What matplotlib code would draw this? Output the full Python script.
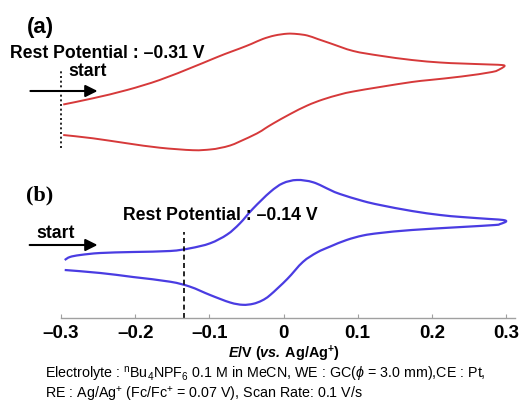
import matplotlib
matplotlib.use("Agg")
import matplotlib.pyplot as plt
from matplotlib.path import Path
from matplotlib.patches import PathPatch

plt.rcParams['font.family'] = ['Liberation Sans', 'DejaVu Sans']
plt.rcParams['mathtext.fontset'] = 'custom'
plt.rcParams['mathtext.rm'] = 'Liberation Sans'
plt.rcParams['mathtext.it'] = 'Liberation Sans:italic'
plt.rcParams['mathtext.bf'] = 'Liberation Sans:bold'
plt.rcParams['mathtext.bfit'] = 'Liberation Sans:bold:italic'

# (a) potential (V vs Ag/Ag+) and current (arb. units), one full cycle
E_a = [-0.297, -0.257, -0.211, -0.167, -0.122, -0.099, -0.079, -0.059, -0.043, -0.028,
       -0.012, 0.005, 0.018, 0.032, 0.046, 0.063, 0.094, 0.130, 0.173, 0.211,
       0.240, 0.278, 0.294, 0.298,
       0.292, 0.281, 0.240, 0.197, 0.173, 0.130, 0.094, 0.076, 0.053, 0.032,
       0.009, -0.014, -0.025, -0.036, -0.059, -0.072, -0.086, -0.099, -0.122,
       -0.167, -0.211, -0.257, -0.297]
I_a = [5.55, 6.17, 7.0, 8.0, 9.3, 10.0, 10.6, 11.15, 11.62, 12.1,
       12.45, 12.63, 12.6, 12.45, 12.1, 11.67, 10.9, 10.43, 10.0, 9.75,
       9.65, 9.55, 9.5, 9.4,
       9.1, 8.8, 8.35, 8.0, 7.8, 7.3, 6.85, 6.55, 6.05, 5.45,
       4.6, 3.65, 3.15, 2.65, 1.85, 1.45, 1.2, 1.05, 0.98,
       1.23, 1.67, 2.17, 2.5]

# (b)
E_b = [-0.295, -0.288, -0.274, -0.247, -0.203, -0.153, -0.126, -0.099, -0.076, -0.059,
       -0.041, -0.018, -0.001, 0.018, 0.040, 0.063, 0.076, 0.107, 0.130, 0.173,
       0.211, 0.240, 0.278, 0.296, 0.300,
       0.292, 0.285, 0.240, 0.173, 0.130, 0.107, 0.085, 0.063, 0.045, 0.026, 0.005,
       -0.018, -0.029, -0.041, -0.055, -0.072, -0.099, -0.126, -0.153, -0.203,
       -0.247, -0.295]
I_b = [5.8, 6.1, 6.3, 6.5, 6.6, 6.7, 6.97, 7.47, 8.35, 9.45,
       10.95, 12.6, 13.47, 13.8, 13.57, 12.8, 12.4, 11.7, 11.3, 10.7,
       10.3, 10.1, 9.9, 9.8, 9.65,
       9.4, 9.3, 9.1, 8.8, 8.5, 8.25, 7.8, 7.15, 6.55, 5.6, 3.9,
       2.3, 1.75, 1.42, 1.32, 1.55, 2.3, 3.13, 3.63, 4.1,
       4.5, 4.8]

rest_a = -0.30
rest_b = -0.134
ticks = [-0.3, -0.2, -0.1, 0.0, 0.1, 0.2, 0.3]
tick_labels = ['\u20130.3', '\u20130.2', '\u20130.1', '0', '0.1', '0.2', '0.3']


def smooth_path(xs, ys):
    # Catmull-Rom through the read points, drawn as cubic Bezier segments
    pts = list(zip(xs, ys))
    verts = [pts[0]]
    codes = [Path.MOVETO]
    n = len(pts)
    for i in range(n - 1):
        p0 = pts[max(i - 1, 0)]
        p1 = pts[i]
        p2 = pts[i + 1]
        p3 = pts[min(i + 2, n - 1)]
        c1 = (p1[0] + (p2[0] - p0[0]) / 6, p1[1] + (p2[1] - p0[1]) / 6)
        c2 = (p2[0] - (p3[0] - p1[0]) / 6, p2[1] - (p3[1] - p1[1]) / 6)
        verts += [c1, c2, p2]
        codes += [Path.CURVE4] * 3
    return Path(verts, codes)


W, H = 524, 403
fig = plt.figure(figsize=(W / 100, H / 100), dpi=100)

def px(x, y):
    return x / W, 1 - y / H

ax_a = fig.add_axes([61 / W, 243 / H, 454 / W, 140 / H])
ax_b = fig.add_axes([61 / W, 85 / H, 454 / W, 148 / H])

for ax in (ax_a, ax_b):
    ax.set_xlim(-0.3, 0.312)
    ax.patch.set_visible(False)
    for s in ax.spines.values():
        s.set_visible(False)
    ax.set_yticks([])

ax_a.set_ylim(0, 14)
ax_b.set_ylim(0, 14.8)
ax_a.set_xticks([])

ax_a.add_patch(PathPatch(smooth_path(E_a, I_a), facecolor='none', edgecolor='#d6393a',
                         lw=1.4, joinstyle='round'))
ax_b.add_patch(PathPatch(smooth_path(E_b, I_b), facecolor='none', edgecolor='#4a3ce2',
                         lw=1.6, joinstyle='round'))

ax_a.plot([rest_a, rest_a], [1.2, 9.0], color='k', lw=1.2, ls=(0, (1.2, 1.6)), clip_on=False)
ax_b.plot([rest_b, rest_b], [0, 8.6], color='k', lw=1.2, ls=(0, (3, 2)), clip_on=False)

# start arrows
ax_a.annotate('', xy=(-0.247, 6.9), xytext=(-0.345, 6.9), annotation_clip=False,
              arrowprops=dict(arrowstyle='-|>', color='k', lw=1.5, mutation_scale=18))
ax_b.annotate('', xy=(-0.247, 7.3), xytext=(-0.346, 7.3), annotation_clip=False,
              arrowprops=dict(arrowstyle='-|>', color='k', lw=1.5, mutation_scale=18))

ax_b.spines['bottom'].set_visible(True)
ax_b.spines['bottom'].set_color('#a0a0a0')
ax_b.spines['bottom'].set_linewidth(1.0)
ax_b.set_xticks(ticks)
ax_b.set_xticklabels(tick_labels, fontsize=13.5, fontweight='bold')
ax_b.tick_params(axis='x', direction='in', length=3, color='#a0a0a0', pad=5)

fig.text(*px(27, 28), '(a)', fontsize=16, fontweight='bold', va='center', ha='left')
fig.text(*px(10, 54), 'Rest Potential : \u20130.31 V', fontsize=12.7, fontweight='bold',
         va='center', ha='left')
fig.text(*px(68, 72), 'start', fontsize=12.7, fontweight='bold', va='center', ha='left')

fig.text(*px(26, 195), '(b)', fontsize=16, fontweight='bold', va='center', ha='left',
         family=['Liberation Serif', 'DejaVu Serif'])
fig.text(*px(123, 215), 'Rest Potential : \u20130.14 V', fontsize=12.7, fontweight='bold',
         va='center', ha='left')
fig.text(*px(36, 233), 'start', fontsize=12.7, fontweight='bold', va='center', ha='left')

fig.text(*px(284, 354), r'$\mathbfit{E}$/V ($\mathbfit{vs.}\:$Ag/Ag$^{\mathbf{+}}$)',
         fontsize=10.4, fontweight='bold', va='center', ha='center')

fig.text(*px(45, 375),
         r'Electrolyte : $^{\rm n}$Bu$_4$NPF$_6$ 0.1 M in MeCN, WE : GC($\phi$ = 3.0 mm),CE : Pt,',
         fontsize=10.3, va='center', ha='left')
fig.text(*px(45, 394),
         r'RE : Ag/Ag$^{+}$ (Fc/Fc$^{+}$ = 0.07 V), Scan Rate: 0.1 V/s',
         fontsize=10.3, va='center', ha='left')

fig.savefig('out.png', dpi=100, facecolor='white')
